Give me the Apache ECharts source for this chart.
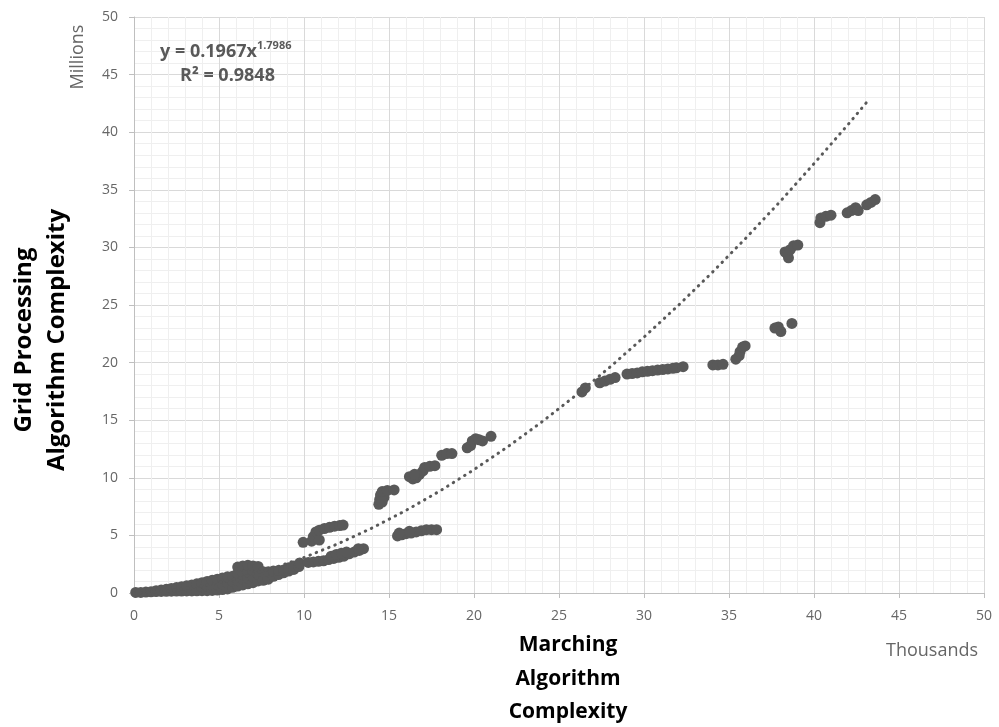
<!DOCTYPE html>
<html><head><meta charset="utf-8">
<script src="https://cdn.jsdelivr.net/npm/echarts@6/dist/echarts.min.js"></script>
<style>html,body{margin:0;padding:0;background:#fff;}#c{width:999px;height:727px;}</style>
</head><body><div id="c"></div>
<script>
// x in thousands, y in millions
var band = [[0.1,0.05],[0.4,0.05],[0.7,0.08],[1.0,0.1],[1.3,0.12],[1.3,0.2],[1.6,0.14],[1.6,0.25],[1.9,0.15],[1.9,0.32],[2.2,0.16],[2.2,0.4],[2.5,0.17],[2.5,0.47],[2.8,0.17],[2.8,0.55],[3.1,0.18],[3.1,0.62],[3.4,0.18],[3.4,0.7],[3.7,0.19],[3.7,0.8],[4.0,0.2],[4.0,0.55],[4.0,0.9],[4.3,0.2],[4.3,0.6],[4.3,1.0],[4.6,0.22],[4.6,0.65],[4.6,1.1],[4.9,0.25],[4.9,0.7],[4.9,1.2],[5.2,0.3],[5.2,0.8],[5.2,1.3],[5.5,0.35],[5.5,0.9],[5.5,1.4],[5.8,0.5],[5.8,1.0],[5.8,1.45],[6.1,0.6],[6.1,1.1],[6.1,1.7],[6.1,2.25],[6.4,0.7],[6.4,1.2],[6.4,1.8],[6.4,2.35],[6.7,0.8],[6.7,1.3],[6.7,1.85],[6.7,2.4],[7.0,0.9],[7.0,1.4],[7.0,1.9],[7.0,2.35],[7.3,1.05],[7.3,1.65],[7.3,2.3],[7.6,1.1],[7.6,1.85],[7.9,1.2],[7.9,1.85],[8.2,1.45],[8.2,1.9],[8.5,1.6],[8.5,1.95],[8.8,1.75],[8.8,2.0],[9.1,1.9],[9.1,2.2],[9.4,2.05],[9.4,2.35],[9.7,2.3],[9.75,2.6]];
var upper10 = [[9.95,4.4],[10.45,4.5],[10.55,4.9],[10.7,5.3],[10.9,4.6],[10.9,5.45],[11.2,5.6],[11.5,5.7],[11.8,5.8],[12.1,5.85],[12.3,5.9]];
var lower10 = [[10.25,2.65],[10.55,2.7],[10.85,2.75],[11.15,2.8],[11.45,2.9],[11.75,3.0],[12.05,3.1],[12.35,3.2],[12.65,3.4],[12.95,3.55],[13.25,3.7],[13.5,3.85],[11.6,3.2],[11.9,3.35],[12.2,3.45],[12.5,3.55],[13.2,3.85]];
var upper15 = [[14.4,7.7],[14.45,8.1],[14.5,8.5],[14.7,8.3],[14.6,7.9],[14.6,8.8],[14.9,8.9],[15.3,8.95]];
var lower15 = [[15.5,4.95],[15.75,5.05],[16.0,5.15],[16.3,5.2],[16.6,5.3],[16.9,5.4],[17.2,5.5],[17.5,5.5],[17.8,5.5],[15.6,5.2],[16.2,5.35]];
var upper16 = [[16.2,10.1],[16.4,9.9],[16.6,10.0],[16.8,10.3],[17.0,10.6],[17.1,10.9],[17.4,11.0],[17.7,11.05],[16.5,10.3]];
var upper18 = [[18.1,11.95],[18.4,12.1],[18.7,12.1]];
var upper20 = [[19.6,12.6],[19.8,12.8],[19.9,13.2],[20.1,13.4],[20.3,13.3],[20.5,13.2],[21.0,13.6]];
var mid26 = [[26.35,17.45],[26.55,17.8],[27.4,18.25],[27.7,18.4],[28.0,18.55],[28.3,18.7]];
var mid29 = [[29.0,19.0],[29.3,19.05],[29.6,19.1],[29.9,19.2],[30.2,19.25],[30.5,19.3],[30.8,19.35],[31.1,19.4],[31.4,19.45],[31.7,19.5],[31.9,19.55],[32.3,19.65]];
var mid34 = [[34.05,19.8],[34.35,19.8],[34.65,19.85],[35.4,20.3],[35.6,20.6],[35.65,20.95],[35.8,21.35],[35.95,21.45]];
var high38 = [[37.7,23.0],[37.9,23.1],[38.05,22.7],[38.7,23.4],[38.3,29.6],[38.5,29.1],[38.45,29.4],[38.6,29.8],[38.8,30.15],[39.05,30.2]];
var high40 = [[40.35,32.15],[40.4,32.55],[40.7,32.7],[41.0,32.8],[41.95,33.0],[42.2,33.2],[42.45,33.45],[42.6,33.2],[43.1,33.7],[43.35,33.9],[43.6,34.15]];
// power trendline (y = 0.1967x^1.7986)
var trendX = [0, 2, 4, 6, 8, 10, 12, 14, 16, 18, 20, 22, 24, 26, 28, 30, 32, 34, 36, 38, 40, 42, 43.3];
var trendY = [0, 0.17, 0.59, 1.23, 2.06, 3.08, 4.27, 5.64, 7.17, 8.86, 10.71, 12.71, 14.86, 17.17, 19.61, 22.21, 24.94, 27.81, 30.82, 33.97, 37.27, 40.66, 42.95];
var xTicks = [0, 5, 10, 15, 20, 25, 30, 35, 40, 45, 50];
var yTicks = [0, 5, 10, 15, 20, 25, 30, 35, 40, 45, 50];

var points = [].concat(band, upper10, lower10, upper15, lower15, upper16, upper18, upper20, mid26, mid29, mid34, high38, high40);
var trend = trendX.map(function (x, i) { return [x, trendY[i]]; });

var chart = echarts.init(document.getElementById('c'), null, {renderer: 'canvas'});
var F = '"Open Sans", sans-serif';
var labelColor = '#666666';
function axis(ticks) {
  return {
    type: 'value', min: ticks[0], max: ticks[ticks.length - 1], interval: ticks[1] - ticks[0],
    axisLine: {show: true, lineStyle: {color: '#bfbfbf', width: 1}},
    axisTick: {show: true, length: 5, lineStyle: {color: '#bfbfbf'}},
    axisLabel: {color: labelColor, fontSize: 14, fontFamily: F, margin: 16},
    splitLine: {show: true, lineStyle: {color: '#d9d9d9', width: 1}},
    minorTick: {show: false, splitNumber: 5},
    minorSplitLine: {show: true, lineStyle: {color: '#efefef', width: 1}}
  };
}
chart.setOption({
  animation: false,
  backgroundColor: '#ffffff',
  grid: {left: 134, right: 15, top: 17, bottom: 134, containLabel: false},
  xAxis: axis(xTicks),
  yAxis: axis(yTicks),
  series: [
    {type: 'scatter', data: points, symbol: 'circle', symbolSize: 11,
     itemStyle: {color: '#595959', opacity: 1, borderWidth: 0}, z: 2},
    {type: 'line', data: trend, showSymbol: false, symbol: 'none', smooth: false, z: 3,
     lineStyle: {color: '#595959', width: 3, type: [0.5, 6.2], cap: 'round'}}
  ],
  graphic: [
    {type: 'text', z: 100, x: 160, y: 52, style: {text: '{b|y = 0.1967x}{s|1.7986}', verticalAlign: 'middle',
      rich: {b: {fill: '#595959', fontSize: 18, fontWeight: 'bold', fontFamily: F, lineHeight: 24},
             s: {fill: '#595959', fontSize: 11, fontWeight: 'bold', fontFamily: F, lineHeight: 24, verticalAlign: 'top'}}}},
    {type: 'text', z: 100, x: 180, y: 76, style: {text: 'R² = 0.9848', verticalAlign: 'middle', fill: '#595959',
      font: 'bold 18px "Open Sans", sans-serif'}},
    {type: 'text', z: 100, x: 41, y: 340, rotation: Math.PI / 2, style: {text: 'Grid Processing\nAlgorithm Complexity',
      align: 'center', verticalAlign: 'middle', fill: '#000000', font: 'bold 24px "Open Sans", sans-serif', lineHeight: 33}},
    {type: 'text', z: 100, x: 78, y: 57, rotation: Math.PI / 2, style: {text: 'Millions', align: 'center', verticalAlign: 'middle',
      fill: labelColor, font: '18px "Open Sans", sans-serif'}},
    {type: 'text', z: 100, x: 568, y: 679, style: {text: 'Marching\nAlgorithm\nComplexity', align: 'center', verticalAlign: 'middle',
      fill: '#000000', font: 'bold 21px "Open Sans", sans-serif', lineHeight: 33.5}},
    {type: 'text', z: 100, x: 932, y: 651, style: {text: 'Thousands', align: 'center', verticalAlign: 'middle',
      fill: labelColor, font: '18px "Open Sans", sans-serif'}}
  ]
});
</script></body></html>
